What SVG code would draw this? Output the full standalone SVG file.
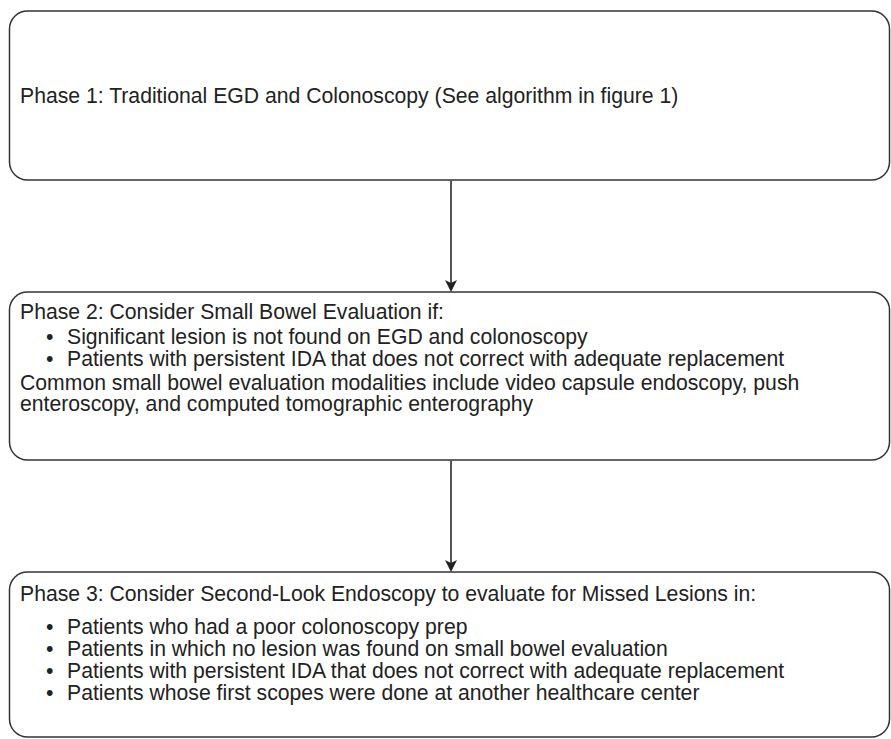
<svg xmlns="http://www.w3.org/2000/svg" width="891" height="739" viewBox="0 0 891 739">
<style>
.box{fill:#fff;stroke:#333;stroke-width:1.5}
.t{font-family:"Liberation Sans",Arial,sans-serif;font-size:21.2px;fill:#222}
.ln{stroke:#555;stroke-width:2;fill:none}
.hd{fill:#222}
</style>
<rect width="891" height="739" fill="#fff"/>
<g id="phase1">
<rect class="box" x="9.5" y="11" width="880" height="169" rx="18" ry="18"/>
<text class="t" x="20" y="103">Phase 1: Traditional EGD and Colonoscopy (See algorithm in figure 1)</text>
</g>
<g id="phase2">
<rect class="box" x="9.5" y="292" width="880" height="168" rx="18" ry="18"/>
<text class="t" x="20" y="319">Phase 2: Consider Small Bowel Evaluation if:</text>
<text class="t" x="46" y="344">•</text>
<text class="t" x="67" y="344">Significant lesion is not found on EGD and colonoscopy</text>
<text class="t" x="46" y="366">•</text>
<text class="t" x="67" y="366">Patients with persistent IDA that does not correct with adequate replacement</text>
<text class="t" x="20" y="390">Common small bowel evaluation modalities include video capsule endoscopy, push</text>
<text class="t" x="20" y="411">enteroscopy, and computed tomographic enterography</text>
</g>
<g id="phase3">
<rect class="box" x="9.5" y="572" width="880" height="165" rx="18" ry="18"/>
<text class="t" x="20" y="601">Phase 3: Consider Second-Look Endoscopy to evaluate for Missed Lesions in:</text>
<text class="t" x="46" y="634">•</text>
<text class="t" x="67" y="634">Patients who had a poor colonoscopy prep</text>
<text class="t" x="46" y="656">•</text>
<text class="t" x="67" y="656">Patients in which no lesion was found on small bowel evaluation</text>
<text class="t" x="46" y="678">•</text>
<text class="t" x="67" y="678">Patients with persistent IDA that does not correct with adequate replacement</text>
<text class="t" x="46" y="700">•</text>
<text class="t" x="67" y="700">Patients whose first scopes were done at another healthcare center</text>
</g>
<g id="connectors">
<line class="ln" x1="451" y1="180" x2="451" y2="283"/>
<path class="hd" d="M445,280 L451,283 L457,280 L451,292 Z"/>
<line class="ln" x1="451" y1="460" x2="451" y2="563"/>
<path class="hd" d="M445,560 L451,563 L457,560 L451,572 Z"/>
</g>
</svg>
